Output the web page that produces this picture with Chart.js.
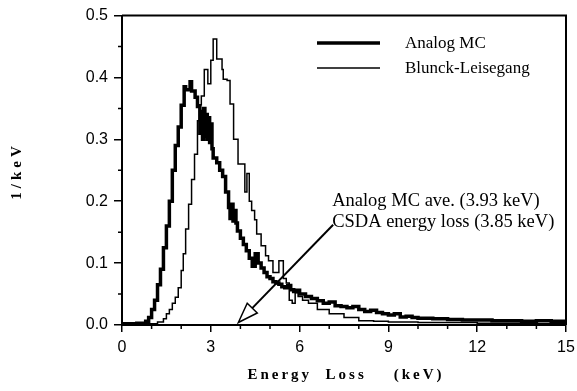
<!DOCTYPE html>
<html>
<head>
<meta charset="utf-8">
<script src="https://cdn.jsdelivr.net/npm/chart.js@4/dist/chart.umd.min.js"></script>
<style>
  html, body { margin: 0; padding: 0; background: #fff; }
  canvas { display: block; }
</style>
</head>
<body>
<canvas id="chart" width="577" height="391"></canvas>
<script>
// energy-loss spectra, step histograms (bin left edge -> 1/keV)
const analogE = [0, 0.5, 0.8, 0.9, 1.0, 1.1, 1.2, 1.3, 1.4, 1.5,
  1.6, 1.7, 1.8, 1.9, 2.0, 2.1, 2.15, 2.3, 2.35, 2.47,
  2.55, 2.63, 2.68, 2.72, 2.76, 2.8, 2.84, 2.88, 2.92, 2.96,
  3.0, 3.04, 3.08, 3.2, 3.3, 3.4, 3.5, 3.6, 3.65, 3.7,
  3.75, 3.8, 3.85, 3.9, 4.0, 4.1, 4.2, 4.3, 4.4, 4.5,
  4.6, 4.7, 4.8, 4.9, 5.0, 5.1, 5.2, 5.3, 5.4, 5.5,
  5.6, 5.7, 5.8, 5.9, 6.0, 6.2, 6.4, 6.6, 6.8, 7.0,
  7.2, 7.4, 7.6, 7.8, 8.0, 8.2, 8.4, 8.6, 8.8, 9.0,
  9.2, 9.4, 9.6, 9.8, 10.0, 10.5, 11.0, 11.5, 12.0, 12.5,
  13.0, 13.5, 14.0, 14.5, 15.0];
const analogV = [0.002, 0.002, 0.003, 0.006, 0.012, 0.025, 0.04, 0.065, 0.09, 0.125,
  0.16, 0.2, 0.25, 0.29, 0.32, 0.355, 0.385, 0.38, 0.393, 0.378,
  0.368, 0.353, 0.31, 0.345, 0.3, 0.35, 0.305, 0.34, 0.3, 0.335,
  0.295, 0.325, 0.285, 0.27, 0.262, 0.25, 0.24, 0.215, 0.19, 0.172,
  0.195, 0.168, 0.185, 0.165, 0.152, 0.14, 0.13, 0.12, 0.108, 0.095,
  0.115, 0.1, 0.092, 0.085, 0.078, 0.075, 0.07, 0.068, 0.066, 0.062,
  0.06, 0.064, 0.057, 0.054, 0.056, 0.05, 0.046, 0.043, 0.039, 0.035,
  0.037, 0.031, 0.03, 0.028, 0.03, 0.025, 0.022, 0.024, 0.02, 0.018,
  0.016, 0.018, 0.013, 0.014, 0.012, 0.011, 0.01, 0.009, 0.008, 0.008,
  0.007, 0.007, 0.006, 0.007, 0.006];

const blunckE = [0, 1.2, 1.4, 1.5, 1.6, 1.7, 1.8, 1.9, 2.0, 2.07,
  2.15, 2.25, 2.35, 2.45, 2.55, 2.62, 2.68, 2.78, 2.9, 3.0,
  3.08, 3.2, 3.38, 3.42, 3.55, 3.65, 3.77, 3.92, 4.15, 4.22,
  4.3, 4.38, 4.48, 4.55, 4.7, 4.85, 4.95, 5.1, 5.3, 5.45,
  5.55, 5.65, 5.75, 5.85, 5.95, 6.1, 6.3, 6.6, 7.0, 7.5,
  8.0, 8.5, 9.0, 10.0, 11.0, 12.0, 13.0, 14.0, 15.0];
const blunckV = [0.001, 0.002, 0.005, 0.01, 0.018, 0.025, 0.035, 0.045, 0.06, 0.088,
  0.115, 0.155, 0.195, 0.235, 0.276, 0.33, 0.356, 0.37, 0.413, 0.39,
  0.428, 0.462, 0.43, 0.413, 0.397, 0.395, 0.357, 0.3, 0.26, 0.215,
  0.245, 0.2, 0.185, 0.17, 0.147, 0.128, 0.112, 0.104, 0.085, 0.104,
  0.075, 0.068, 0.04, 0.035, 0.052, 0.046, 0.04, 0.035, 0.025, 0.018,
  0.012, 0.007, 0.006, 0.005, 0.004, 0.004, 0.003, 0.003, 0.002];

const seriesNames = ['Analog MC', 'Blunck-Leisegang'];
const noteLines = ['Analog MC ave. (3.93 keV)', 'CSDA energy loss (3.85 keV)'];
const csdaLoss = 3.93;

const pts = (xs, ys) => xs.map((e, i) => ({x: e, y: ys[i]}));
const tickFont = {family: '"Liberation Sans", Arial, sans-serif', size: 16};

// frame, minor ticks, legend, arrow note and axis titles
const decor = {
  id: 'decor',
  afterDraw(chart) {
    const {ctx, chartArea: a, scales: {x, y}} = chart;
    ctx.save();
    ctx.strokeStyle = '#000';
    ctx.fillStyle = '#000';

    ctx.lineWidth = 2;
    ctx.beginPath();
    ctx.moveTo(a.left, a.top); ctx.lineTo(a.right, a.top); ctx.lineTo(a.right, a.bottom);
    ctx.stroke();

    ctx.lineWidth = 1.5;
    ctx.beginPath();
    for (let v = 0.05; v < 0.5; v += 0.1) {
      const py = y.getPixelForValue(v);
      ctx.moveTo(a.left - 4, py); ctx.lineTo(a.left, py);
    }
    for (let e = 1; e < 15; e++) {
      if (e % 3 === 0) continue;
      const px = x.getPixelForValue(e);
      ctx.moveTo(px, a.bottom); ctx.lineTo(px, a.bottom + 4);
    }
    ctx.stroke();

    // legend
    ctx.font = '17px "Liberation Serif", "Times New Roman", serif';
    ctx.textBaseline = 'middle';
    ctx.textAlign = 'left';
    const legY = [43, 68];
    const widths = [3.5, 1.5];
    seriesNames.forEach((name, i) => {
      ctx.lineWidth = widths[i];
      ctx.beginPath();
      ctx.moveTo(317, legY[i]); ctx.lineTo(380, legY[i]);
      ctx.stroke();
      ctx.fillText(name, 405, legY[i] + 1);
    });

    // note with arrow down to the mean loss
    ctx.font = '18.5px "Liberation Serif", "Times New Roman", serif';
    const tx = x.getPixelForValue(7.1);
    ctx.fillText(noteLines[0], tx, y.getPixelForValue(0.2));
    ctx.fillText(noteLines[1], tx, y.getPixelForValue(0.167));
    const x0 = tx + 1, y0 = y.getPixelForValue(0.162);
    const x1 = x.getPixelForValue(csdaLoss), y1 = y.getPixelForValue(0.004);
    const ang = Math.atan2(y1 - y0, x1 - x0);
    const hl = 20, hw = 7;
    const bx = x1 - hl * Math.cos(ang), by = y1 - hl * Math.sin(ang);
    ctx.lineWidth = 2;
    ctx.beginPath();
    ctx.moveTo(x0, y0); ctx.lineTo(bx, by);
    ctx.stroke();
    ctx.lineWidth = 1.5;
    ctx.beginPath();
    ctx.moveTo(x1, y1);
    ctx.lineTo(bx + hw * Math.sin(ang), by - hw * Math.cos(ang));
    ctx.lineTo(bx - hw * Math.sin(ang), by + hw * Math.cos(ang));
    ctx.closePath();
    ctx.fillStyle = '#fff';
    ctx.fill();
    ctx.stroke();
    ctx.fillStyle = '#000';

    // axis titles
    ctx.font = 'bold 15px "Liberation Serif", "Times New Roman", serif';
    ctx.letterSpacing = '3px';
    ctx.textAlign = 'center';
    ctx.fillText('Energy  Loss    (keV)', (a.left + a.right) / 2 + 2, 375);
    ctx.save();
    ctx.translate(17, 171);
    ctx.rotate(-Math.PI / 2);
    ctx.letterSpacing = '4px';
    ctx.fillText('1/keV', 0, 0);
    ctx.restore();
    ctx.restore();
  }
};

new Chart(document.getElementById('chart'), {
  type: 'line',
  data: {
    datasets: [
      {label: seriesNames[0], data: pts(analogE, analogV), stepped: 'after',
       borderColor: '#000', borderWidth: 3.5, pointRadius: 0, fill: false},
      {label: seriesNames[1], data: pts(blunckE, blunckV), stepped: 'after',
       borderColor: '#000', borderWidth: 1.5, pointRadius: 0, fill: false}
    ]
  },
  options: {
    responsive: false,
    animation: false,
    layout: {padding: {top: 13, right: 11}},
    plugins: {legend: {display: false}, tooltip: {enabled: false}},
    scales: {
      x: {
        type: 'linear', min: 0, max: 15,
        ticks: {stepSize: 3, color: '#000', font: tickFont, padding: 6, maxRotation: 0},
        grid: {drawOnChartArea: false, tickLength: 7, color: '#000', lineWidth: 1.5},
        border: {color: '#000', width: 2},
        afterFit(s) { s.height = 66; s.paddingLeft = 0; s.paddingRight = 0; }
      },
      y: {
        min: 0, max: 0.5,
        ticks: {stepSize: 0.1, color: '#000', font: tickFont, padding: 6,
                callback: v => v.toFixed(1)},
        grid: {drawOnChartArea: false, tickLength: 8, color: '#000', lineWidth: 1.5},
        border: {color: '#000', width: 2},
        afterFit(s) { s.width = 122; }
      }
    }
  },
  plugins: [decor]
});
</script>
</body>
</html>
